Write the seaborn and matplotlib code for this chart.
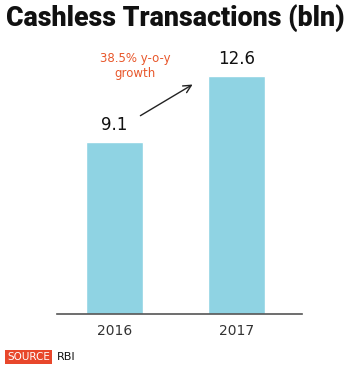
import matplotlib
matplotlib.use("Agg")
import matplotlib.pyplot as plt
import seaborn as sns
import pandas as pd

years = ["2016", "2017"]
values = [9.1, 12.6]
value_labels = ["9.1", "12.6"]
title = "Cashless Transactions (bln)"
note = "38.5% y-o-y\ngrowth"

sns.set_style("white")
plt.rcParams['font.family'] = ['DejaVu Sans']

fig = plt.figure(figsize=(3.5, 3.72), dpi=100)
ax = fig.add_axes([57/350, (372-314)/372, 245/350, 274/372])
df = pd.DataFrame({"year": years, "value": values})
sns.barplot(data=df, x="year", y="value", color="#8fd3e3", saturation=1, width=0.47, ax=ax)
ax.set_xlim(-0.471, 1.537)
ax.set_ylim(0, 14.5)
for s in ["top", "right", "left"]:
    ax.spines[s].set_visible(False)
ax.spines["bottom"].set_color("#555555")
ax.spines["bottom"].set_linewidth(1.2)
ax.set_yticks([])
ax.set_xlabel("")
ax.set_ylabel("")
ax.tick_params(axis="x", length=0, labelsize=10, colors="#333333", pad=7)

for i, (v, lab) in enumerate(zip(values, value_labels)):
    ax.text(i, v + 0.4, lab, ha="center", va="bottom", fontsize=12, color="#111111")

ax.annotate("", xy=(0.66, 12.22), xytext=(0.193, 10.42),
            arrowprops=dict(arrowstyle="->", color="#222222", lw=1.0, mutation_scale=14))
ax.text(0.168, 13.12, note, ha="center", va="center", fontsize=8.5, color="#e8572b", linespacing=1.15)

fig.text(175/350, 1-18/372, title, ha="center", va="center", fontsize=19.3, fontweight="black",
         family=['Roboto', 'DejaVu Sans'], color="#111111")

fig.text(7/350, 1-357/372, "SOURCE", ha="left", va="center", fontsize=7.5, color="white",
         bbox=dict(boxstyle="square,pad=0.2", fc="#e8472b", ec="none"))
fig.text(57/350, 1-357/372, "RBI", ha="left", va="center", fontsize=8, color="#111111")

fig.savefig("out.png", dpi=100)
